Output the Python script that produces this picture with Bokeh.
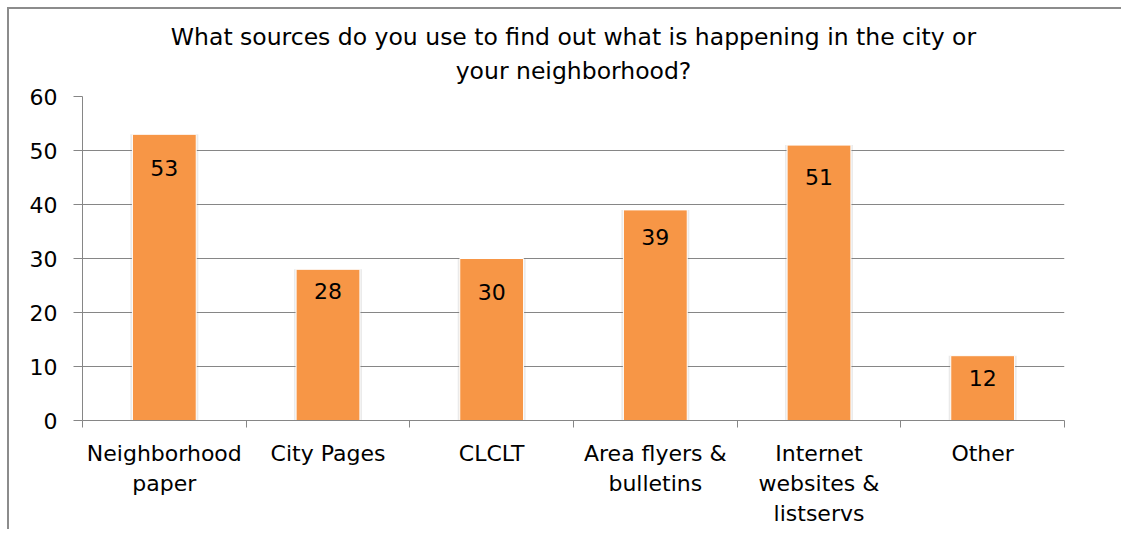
from bokeh.plotting import figure
from bokeh.models import Range1d, FixedTicker, LabelSet, ColumnDataSource, Title
from bokeh.embed import file_html
from bokeh.resources import INLINE
from bokeh.core.properties import value

# ---- data ----
categories = ["Neighborhood\npaper", "City Pages", "CLCLT", "Area flyers &\nbulletins",
              "Internet\nwebsites &\nlistservs", "Other"]
counts = [53, 28, 30, 39, 51, 12]
y_ticks = [0, 10, 20, 30, 40, 50, 60]
title_lines = ["What sources do you use to find out what is happening in the city or",
               "your neighborhood?"]

# ---- styles ----
label_offsets = [-34, -22, -33, -27, -32, -22]
FONT = "DejaVu Sans"
FS = "22px"
TFS = "23.5px"
GRID = "#868686"
BAR = "#F79646"

n = len(categories)
p = figure(width=1114, height=522, x_range=Range1d(0, n), y_range=Range1d(0, 60),
           output_backend="svg", toolbar_location=None,
           min_border_left=73, min_border_right=59, min_border_top=87, min_border_bottom=111)
p.styles = {"margin-left": "7px", "margin-top": "7px",
            "border-left": "2px solid #8c8c8c", "border-top": "2px solid #8c8c8c"}
p.outline_line_color = None
p.background_fill_color = "white"
p.border_fill_color = "white"

xs = [i + 0.5 for i in range(n)]
source = ColumnDataSource(dict(x=xs, top=counts, label=[str(c) for c in counts], off=label_offsets))

# shadow + bars
p.vbar(x="x", top="top", width=0.415, bottom=0, source=source,
       fill_color="#7f7f7f", fill_alpha=0.16, line_color=None)
p.vbar(x="x", top="top", width=0.39, bottom=0, source=source,
       fill_color=BAR, line_color="white", line_width=1)

p.add_layout(LabelSet(x="x", y="top", text="label", y_offset="off", source=source,
                      text_align="center", text_baseline="middle",
                      text_font=value(FONT), text_font_size=FS, text_color="black"))

# title: first line is the outer title, second line sits nearest the plot
def style_title(t, standoff):
    t.align = "center"
    t.text_font = FONT
    t.text_font_size = TFS
    t.text_font_style = "normal"
    t.text_color = "black"
    t.text_line_height = 1.0
    t.standoff = standoff

p.title.text = title_lines[0]
style_title(p.title, -15)
t2 = Title(text=title_lines[1])
style_title(t2, 23)
p.add_layout(t2, "above")

# y axis
p.yaxis.ticker = FixedTicker(ticks=y_ticks)
p.yaxis.major_tick_out = 9
p.yaxis.major_tick_in = 0
p.yaxis.minor_tick_line_color = None
p.yaxis.axis_line_color = GRID
p.yaxis.major_tick_line_color = GRID
p.yaxis.major_label_text_font = FONT
p.yaxis.major_label_text_font_size = FS
p.yaxis.major_label_text_color = "black"
p.yaxis.major_label_standoff = 16

# x axis: labels at bar centres, tick marks at category boundaries
p.xaxis.ticker = FixedTicker(ticks=xs, minor_ticks=list(range(n + 1)))
p.xaxis.major_label_overrides = {x: c for x, c in zip(xs, categories)}
p.xaxis.major_tick_line_color = None
p.xaxis.major_tick_out = 7
p.xaxis.major_tick_in = 0
p.xaxis.minor_tick_out = 7
p.xaxis.minor_tick_in = 0
p.xaxis.minor_tick_line_color = GRID
p.xaxis.axis_line_color = GRID
p.xaxis.major_label_text_font = FONT
p.xaxis.major_label_text_font_size = FS
p.xaxis.major_label_text_color = "black"
p.xaxis.major_label_text_line_height = 1.2
p.xaxis.major_label_standoff = 13

p.xgrid.visible = False
p.ygrid.ticker = FixedTicker(ticks=y_ticks)
p.ygrid.grid_line_color = GRID
p.ygrid.grid_line_width = 1

open("out.html", "w").write(file_html(p, INLINE))
